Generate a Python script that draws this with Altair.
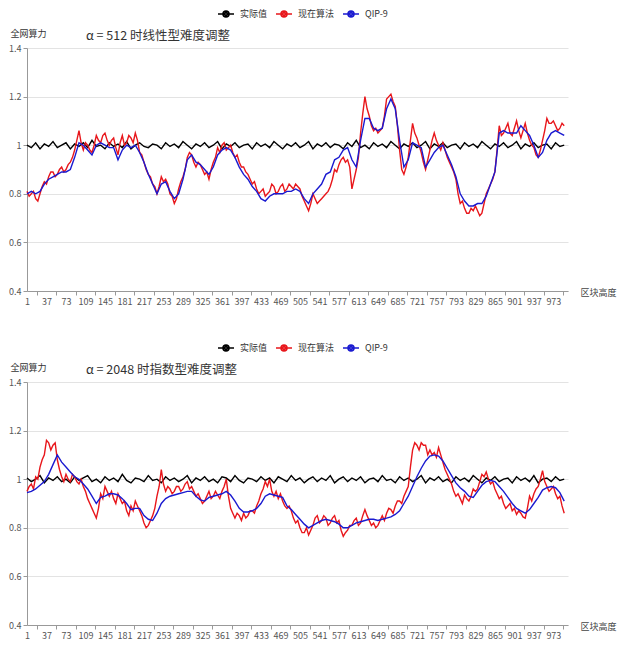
import altair as alt
import pandas as pd

SERIES = ["实际值", "现在算法", "QIP-9"]
COLORS = ["#000000", "#e8161b", "#1a1ad0"]
STEPS = [8, 4, 8]  # block spacing of the values read for each series
X_LABELS = list(range(1, 974, 36))
Y_TICKS = [0.4, 0.6, 0.8, 1.0, 1.2, 1.4]
TITLES = ["α = 512 时线性型难度调整", "α = 2048 时指数型难度调整"]
FONT = "Noto Sans CJK SC"

# ---- panel 1 (alpha = 512, linear) ----
p1_actual = [
    1.00, 0.99, 1.01, 0.985, 1.005, 0.995, 1.015, 0.99, 1.00, 1.01,
    0.985, 1.005, 0.995, 1.01, 0.99, 1.02, 0.995, 1.00, 0.985, 1.01,
    0.995, 1.005, 0.99, 1.015, 0.985, 1.00, 1.01, 0.995, 0.99, 1.005,
    1.00, 0.985, 1.01, 0.995, 1.005, 0.99, 1.015, 1.00, 0.985, 1.005,
    0.995, 1.01, 0.99, 1.00, 1.015, 0.985, 1.005, 0.995, 1.01, 0.99,
    1.00, 1.005, 0.985, 1.01, 0.995, 1.005, 0.99, 1.015, 1.00, 0.985,
    1.005, 0.995, 1.01, 0.99, 1.00, 1.015, 0.985, 1.005, 0.995, 1.01,
    0.99, 1.005, 1.00, 0.985, 1.01, 0.995, 1.02, 0.99, 1.00, 0.985,
    1.01, 0.995, 1.005, 0.99, 1.015, 1.00, 0.985, 1.005, 0.995, 1.01,
    0.99, 1.00, 1.015, 0.985, 1.005, 0.995, 1.01, 0.99, 1.00, 1.005,
    0.985, 1.01, 0.995, 1.005, 0.99, 1.015, 1.00, 0.985, 1.005, 0.995,
    1.01, 0.99, 1.00, 1.015, 0.985, 1.005, 0.995, 1.01, 0.99, 1.00,
    1.005, 0.985, 1.01, 0.995, 1.00,
]
p1_current = [
    0.81, 0.79, 0.80, 0.81, 0.78, 0.77, 0.80, 0.83, 0.85, 0.84,
    0.87, 0.89, 0.89, 0.87, 0.88, 0.90, 0.91, 0.89, 0.90, 0.92,
    0.93, 0.95, 0.98, 1.02, 1.06, 1.01, 0.98, 1.01, 1.00, 0.98,
    0.97, 1.00, 1.04, 1.02, 1.01, 1.04, 1.05, 1.02, 1.00, 1.02,
    1.03, 0.99, 0.96, 1.01, 1.04, 1.00, 1.01, 1.04, 1.03, 1.01,
    1.05, 1.02, 0.97, 0.96, 0.93, 0.90, 0.88, 0.87, 0.84, 0.83,
    0.80, 0.83, 0.87, 0.85, 0.86, 0.84, 0.80, 0.79, 0.76, 0.78,
    0.82, 0.85, 0.87, 0.90, 0.95, 0.97, 0.96, 0.93, 0.91, 0.93,
    0.92, 0.90, 0.88, 0.89, 0.86, 0.90, 0.93, 0.95, 0.99, 0.97,
    1.00, 1.01, 0.98, 0.99, 1.00, 0.97, 0.95, 0.96, 0.93, 0.91,
    0.91, 0.89, 0.88, 0.86, 0.84, 0.85, 0.82, 0.80, 0.81, 0.82,
    0.79, 0.80, 0.81, 0.84, 0.83, 0.80, 0.81, 0.83, 0.84, 0.81,
    0.82, 0.84, 0.83, 0.82, 0.84, 0.83, 0.82, 0.79, 0.77, 0.75,
    0.73, 0.76, 0.80, 0.78, 0.76, 0.77, 0.78, 0.79, 0.80, 0.81,
    0.83, 0.86, 0.90, 0.89, 0.92, 0.94, 0.95, 0.93, 0.94, 0.91,
    0.82, 0.86, 0.90, 0.95, 1.05, 1.13, 1.20, 1.15, 1.12, 1.08,
    1.06, 1.07, 1.05, 1.06, 1.07, 1.12, 1.19, 1.20, 1.21, 1.18,
    1.16, 1.08, 0.98, 0.90, 0.88, 0.91, 0.95, 1.02, 1.09, 1.05,
    1.03, 1.00, 0.97, 0.93, 0.90, 0.94, 0.98, 1.02, 1.05, 1.02,
    1.00, 0.98, 1.01, 0.98, 0.95, 0.93, 0.91, 0.89, 0.86, 0.80,
    0.76, 0.77, 0.74, 0.72, 0.72, 0.74, 0.73, 0.75, 0.73, 0.71,
    0.72, 0.76, 0.80, 0.82, 0.84, 0.86, 0.89, 0.98, 1.08, 1.04,
    1.05, 1.07, 1.09, 1.05, 1.04, 1.07, 1.10, 1.06, 1.03, 1.06,
    1.09, 1.05, 1.02, 1.00, 0.99, 0.96, 0.95, 0.98, 1.02, 1.06,
    1.11, 1.09, 1.09, 1.10, 1.08, 1.06, 1.07, 1.09, 1.08,
]
p1_qip = [
    0.80, 0.81, 0.80, 0.81, 0.84, 0.86, 0.87, 0.88, 0.89, 0.89,
    0.90, 0.95, 1.01, 1.00, 0.98, 0.96, 1.00, 1.01, 1.00, 0.99,
    0.99, 0.94, 0.98, 1.00, 0.99, 1.00, 0.97, 0.93, 0.88, 0.84,
    0.80, 0.84, 0.85, 0.81, 0.78, 0.80, 0.86, 0.94, 0.96, 0.93,
    0.92, 0.90, 0.88, 0.91, 0.96, 0.98, 0.99, 0.98, 0.95, 0.91,
    0.88, 0.86, 0.83, 0.81, 0.78, 0.77, 0.79, 0.80, 0.80, 0.80,
    0.81, 0.81, 0.82, 0.81, 0.78, 0.76, 0.80, 0.82, 0.84, 0.88,
    0.89, 0.94, 0.95, 0.98, 0.99, 0.94, 0.91, 1.02, 1.11, 1.11,
    1.07, 1.06, 1.07, 1.15, 1.19, 1.15, 1.02, 0.91, 0.94, 1.01,
    1.00, 0.99, 0.91, 0.94, 0.97, 0.99, 1.00, 0.96, 0.92, 0.87,
    0.80, 0.77, 0.75, 0.75, 0.76, 0.76, 0.79, 0.84, 0.89, 1.05,
    1.06, 1.05, 1.05, 1.05, 1.08, 1.06, 1.04, 1.00, 0.95, 0.97,
    1.02, 1.05, 1.06, 1.05, 1.04,
]

# ---- panel 2 (alpha = 2048, exponential) ----
p2_actual = [
    1.005, 0.99, 1.00, 1.015, 0.985, 1.005, 0.995, 1.01, 0.99, 1.00,
    0.985, 1.01, 0.995, 1.005, 1.015, 0.99, 1.00, 0.985, 1.01, 0.995,
    1.005, 0.99, 1.02, 0.995, 0.985, 1.005, 1.00, 0.99, 1.015, 0.995,
    1.00, 0.985, 1.01, 0.995, 1.005, 0.99, 1.00, 1.015, 0.985, 1.005,
    0.995, 1.01, 0.99, 1.00, 0.985, 1.01, 1.005, 0.99, 1.015, 0.995,
    0.985, 1.005, 1.00, 0.99, 1.01, 0.995, 1.005, 0.985, 1.01, 1.00,
    0.99, 1.015, 0.995, 1.005, 0.985, 1.00, 1.01, 0.99, 1.005, 0.995,
    1.015, 0.985, 1.00, 1.01, 0.99, 1.005, 0.995, 1.01, 0.985, 1.00,
    1.005, 0.99, 1.015, 0.995, 1.00, 0.985, 1.01, 0.995, 1.005, 0.99,
    1.00, 1.015, 0.985, 1.005, 0.995, 1.01, 0.99, 1.00, 0.985, 1.01,
    0.995, 1.005, 0.99, 1.015, 1.00, 0.985, 1.005, 0.995, 1.01, 0.99,
    1.00, 1.005, 0.985, 1.01, 0.995, 1.005, 0.99, 1.015, 0.985, 1.00,
    1.005, 0.99, 1.01, 0.995, 1.00,
]
p2_current = [
    0.95, 0.97, 0.98, 0.96, 1.01, 1.00, 1.05, 1.08, 1.10, 1.16,
    1.15, 1.12, 1.14, 1.15, 1.08, 1.04, 1.01, 0.99, 1.02, 1.00,
    0.99, 1.02, 1.01, 0.99, 0.98, 1.00, 0.97, 0.95, 0.92, 0.90,
    0.88, 0.86, 0.84, 0.88, 0.94, 0.92, 0.97, 0.95, 0.93, 0.95,
    0.92, 0.90, 0.94, 0.92, 0.90, 0.91, 0.87, 0.85, 0.89, 0.87,
    0.91, 0.89, 0.87, 0.85, 0.82, 0.80, 0.81, 0.83, 0.85, 0.88,
    0.93, 0.97, 1.04, 0.98, 0.95, 0.97, 0.96, 0.94, 0.95, 0.97,
    0.97, 0.95, 0.96, 0.98, 0.99, 0.96, 0.97, 0.95, 0.93, 0.94,
    0.92, 0.90, 0.91, 0.93, 0.95, 0.92, 0.93, 0.95, 0.935, 0.92,
    0.95, 0.97, 1.00, 0.93, 0.88, 0.86, 0.84, 0.86, 0.85, 0.83,
    0.86, 0.84, 0.85, 0.87, 0.87, 0.86, 0.89, 0.91, 0.94, 0.96,
    0.99, 0.97, 1.00, 0.95, 0.93, 0.95, 0.92, 0.94, 0.91, 0.89,
    0.88, 0.89, 0.87, 0.84, 0.82, 0.83, 0.80, 0.78, 0.78, 0.80,
    0.77, 0.79, 0.81, 0.84, 0.85, 0.82, 0.83, 0.85, 0.84, 0.81,
    0.82, 0.84, 0.85, 0.82, 0.83, 0.79, 0.765, 0.78, 0.79, 0.81,
    0.81, 0.83, 0.84, 0.81, 0.82, 0.85, 0.875, 0.85, 0.83, 0.81,
    0.82, 0.80, 0.81, 0.83, 0.85, 0.83, 0.86, 0.88, 0.875, 0.86,
    0.89, 0.91, 0.91, 0.90, 0.93, 0.95, 0.97, 1.05, 1.12, 1.15,
    1.14, 1.12, 1.15, 1.14, 1.14, 1.10, 1.12, 1.10, 1.11, 1.09,
    1.13, 1.10, 1.07, 1.04, 1.02, 1.00, 0.98, 0.95, 0.93, 0.94,
    0.92, 0.90, 0.935, 0.92, 0.91, 0.93, 0.96, 0.95, 0.96, 0.99,
    1.02, 1.01, 1.03, 1.00, 0.98, 0.99, 0.96, 0.94, 0.92, 0.93,
    0.90, 0.88, 0.89, 0.90, 0.87, 0.88, 0.855, 0.87, 0.86, 0.845,
    0.84, 0.88, 0.93, 0.91, 0.94, 0.96, 0.97, 1.00, 1.035, 0.99,
    0.97, 0.95, 0.96, 0.97, 0.94, 0.92, 0.93, 0.89, 0.86,
]
p2_qip = [
    0.945, 0.95, 0.96, 0.975, 0.99, 1.02, 1.06, 1.10, 1.07, 1.05,
    1.03, 1.01, 1.00, 0.98, 0.96, 0.93, 0.90, 0.925, 0.93, 0.94,
    0.94, 0.935, 0.92, 0.90, 0.875, 0.88, 0.88, 0.85, 0.835, 0.83,
    0.86, 0.90, 0.92, 0.93, 0.935, 0.94, 0.945, 0.95, 0.95, 0.93,
    0.915, 0.91, 0.925, 0.93, 0.935, 0.94, 0.95, 0.935, 0.91, 0.88,
    0.865, 0.865, 0.87, 0.88, 0.90, 0.93, 0.94, 0.935, 0.93, 0.925,
    0.89, 0.875, 0.855, 0.835, 0.815, 0.80, 0.81, 0.82, 0.83, 0.835,
    0.83, 0.825, 0.815, 0.80, 0.80, 0.81, 0.82, 0.825, 0.83, 0.835,
    0.835, 0.83, 0.835, 0.84, 0.845, 0.855, 0.87, 0.90, 0.93, 0.97,
    1.01, 1.045, 1.075, 1.095, 1.10, 1.095, 1.075, 1.045, 1.015, 0.985,
    0.965, 0.95, 0.93, 0.925, 0.95, 0.975, 0.99, 0.995, 0.99, 0.97,
    0.95, 0.925, 0.90, 0.88, 0.87, 0.86, 0.875, 0.90, 0.925, 0.955,
    0.965, 0.97, 0.965, 0.945, 0.91,
]

W, H = 541, 243
PX_PER_BLOCK = W / 999.0
# legend symbol: line - filled dot - line (dot filled with concentric strokes)
LEGEND_SYMBOL = (
    "M-1.6,0H-0.6M0.6,0H1.6"
    "M-0.6,0A0.6,0.6 0 1,1 0.6,0A0.6,0.6 0 1,1 -0.6,0"
    "M-0.3,0A0.3,0.3 0 1,1 0.3,0A0.3,0.3 0 1,1 -0.3,0"
    "M-0.06,0A0.06,0.06 0 1,1 0.06,0A0.06,0.06 0 1,1 -0.06,0"
)


def panel(actual, current, qip, title):
    rows = []
    for name, step, vals in zip(SERIES, STEPS, [actual, current, qip]):
        for i, v in enumerate(vals):
            rows.append({"block": 1 + step * i, "value": v, "series": name})
    df = pd.DataFrame(rows)
    xenc = alt.X(
        "block:Q",
        scale=alt.Scale(domain=[1, 1000], nice=False, zero=False),
        axis=alt.Axis(
            values=[v + 18 for v in X_LABELS],
            labelExpr="datum.value - 18",
            labelOffset=-18 * PX_PER_BLOCK,
            labelOverlap=False, labelFlush=False,
            labelFontSize=9, labelColor="#555", labelFont=FONT,
            tickSize=4, tickColor="#999", domainColor="#999",
            grid=False,
            title="区块高度", titleFontSize=9, titleFontWeight="normal",
            titleColor="#444", titleFont=FONT,
            titleX=W + 12, titleY=1, titleAlign="left",
            titleBaseline="middle", titleAnchor="start",
        ),
    )
    yenc = alt.Y(
        "value:Q",
        scale=alt.Scale(domain=[0.4, 1.4], nice=False, zero=False),
        axis=alt.Axis(
            values=Y_TICKS, format="~g",
            labelFontSize=9, labelColor="#555", labelFont=FONT,
            tickSize=4, tickColor="#999", domainColor="#999",
            grid=True, gridColor="#e3e3e3",
            title="全网算力", titleFontSize=9, titleFontWeight="normal",
            titleColor="#333", titleFont=FONT, titleAngle=0,
            titleX=-17, titleY=-15, titleAlign="left",
            titleBaseline="middle",
        ),
    )
    color = alt.Color(
        "series:N",
        scale=alt.Scale(domain=SERIES, range=COLORS),
        legend=alt.Legend(
            orient="none", legendX=193, legendY=-40, direction="horizontal",
            title=None, symbolType=LEGEND_SYMBOL, symbolSize=100,
            symbolStrokeWidth=1.5, labelFontSize=9, labelFont=FONT,
            labelColor="#333", columnPadding=5, labelOffset=8,
        ),
    )
    layers = [
        alt.Chart(df).transform_filter(alt.datum.series == s)
        .mark_line(strokeWidth=1.4)
        .encode(x=xenc, y=yenc, color=color)
        for s in SERIES
    ]
    return alt.layer(*layers).properties(
        width=W, height=H,
        title=alt.TitleParams(
            title, anchor="start", frame="group", dx=59, dy=39,
            fontSize=12.5, fontWeight="normal",
            color="#333", font=FONT, offset=5,
        ),
    )


chart = alt.vconcat(
    panel(p1_actual, p1_current, p1_qip, TITLES[0]),
    panel(p2_actual, p2_current, p2_qip, TITLES[1]),
    spacing=36,
).resolve_scale(color="independent").resolve_legend(color="independent").properties(
    padding={"left": 0, "top": 0, "right": 0, "bottom": 0},
).configure_view(stroke=None)

chart.save("out.html", embed_options={"renderer": "svg", "actions": False})
